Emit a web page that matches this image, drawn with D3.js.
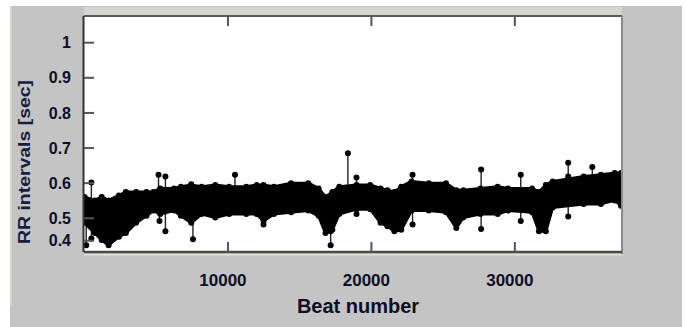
<!DOCTYPE html>
<html>
<head>
<meta charset="utf-8">
<script src="https://cdn.jsdelivr.net/npm/d3@7"></script>
<style>
  html, body { margin: 0; padding: 0; background: #ffffff; }
  svg { display: block; }
  text { font-family: "Liberation Sans", Arial, sans-serif; }
</style>
</head>
<body>
<script>
// ---- data ----
const bandBeats = [0,720,1200,1680,2400,2880,3600,4320,4800,5280,6240,6720,7440,8160,9120,10080,11280,12000,12480,13200,14400,15600,16320,16800,17280,17760,18960,19920,20640,21120,21600,22080,22800,24000,25200,25920,26400,27600,28800,29520,31200,31680,32160,32640,34800,36000,36960,37400];
const bandUpper = [0.561,0.551,0.561,0.551,0.565,0.575,0.575,0.575,0.575,0.585,0.585,0.590,0.595,0.590,0.595,0.590,0.590,0.595,0.595,0.590,0.600,0.600,0.585,0.561,0.575,0.590,0.595,0.595,0.585,0.580,0.575,0.590,0.605,0.600,0.600,0.580,0.580,0.585,0.590,0.585,0.585,0.575,0.595,0.605,0.619,0.624,0.629,0.629];
const bandLower = [0.480,0.434,0.403,0.380,0.418,0.434,0.480,0.507,0.522,0.512,0.522,0.507,0.480,0.512,0.502,0.512,0.512,0.512,0.488,0.512,0.517,0.522,0.507,0.434,0.449,0.512,0.526,0.526,0.480,0.465,0.442,0.449,0.522,0.522,0.517,0.457,0.502,0.512,0.512,0.522,0.517,0.442,0.442,0.531,0.541,0.541,0.551,0.536];
const outlierBeats  = [480,5160,5640,7440,10490,18360,18960,22870,27650,30410,33720,33720,35400, 120,480,5230,5640,7560,12480,17160,17160,18960,22870,27650,30410,33720];
const outlierValues = [0.602,0.624,0.619,0.597,0.624,0.685,0.616,0.624,0.639,0.624,0.658,0.619,0.646, 0.380,0.410,0.488,0.442,0.406,0.472,0.442,0.380,0.512,0.472,0.452,0.488,0.505];
const xTicks = [10000, 20000, 30000];
const yTicks = [0.4, 0.5, 0.6, 0.7, 0.8, 0.9, 1];
const xTitle = "Beat number";
const yTitle = "RR intervals [sec]";

// ---- layout ----
const W = 686, H = 327;
const plot = {left: 84, top: 16, right: 622, bottom: 252};

const svg = d3.select("body").append("svg").attr("width", W).attr("height", H);

// gray figure panel
svg.append("rect").attr("x", 10).attr("y", 6).attr("width", 672).attr("height", H - 6).attr("fill", "#c4c4c4");
svg.append("line").attr("x1", 11).attr("x2", 11).attr("y1", 6).attr("y2", 306).attr("stroke", "#dedbd0").attr("stroke-width", 1.2);
// light bevel above/below plot
svg.append("rect").attr("x", plot.left).attr("y", 7).attr("width", plot.right - plot.left).attr("height", 8).attr("fill", "#d6d5cf");
svg.append("line").attr("x1", plot.left).attr("x2", plot.right).attr("y1", 254.5).attr("y2", 254.5).attr("stroke", "#e2dfd2").attr("stroke-width", 2);

// white plot area
svg.append("rect").attr("x", plot.left).attr("y", plot.top).attr("width", plot.right - plot.left).attr("height", plot.bottom - plot.top).attr("fill", "#ffffff");

const x = d3.scaleLinear().domain([0, 37400]).range([84.5, 621]);
const y = d3.scaleLinear().domain([0.4, 0.5, 1.0]).range([240.7, 218.3, 42.7]);

const g = svg.append("g");
const clip = svg.append("clipPath").attr("id", "pc").append("rect")
  .attr("x", plot.left).attr("y", plot.top).attr("width", plot.right - plot.left).attr("height", plot.bottom - plot.top);
const data = g.append("g").attr("clip-path", "url(#pc)");

const band = bandBeats.map((b, i) => ({b, u: bandUpper[i], l: bandLower[i]}));

// stems of outliers (to band centre)
const mid = b => {
  const i = d3.bisector(d => d.b).right(band, b);
  const a = band[Math.max(0, i - 1)], c = band[Math.min(band.length - 1, i)];
  const t = c.b === a.b ? 0 : (b - a.b) / (c.b - a.b);
  return ((a.u + a.l) / 2) * (1 - t) + ((c.u + c.l) / 2) * t;
};
data.selectAll("line.stem").data(outlierBeats.map((b, i) => ({b, v: outlierValues[i]})))
  .join("line").attr("class", "stem")
  .attr("x1", d => x(d.b)).attr("x2", d => x(d.b))
  .attr("y1", d => y(d.v)).attr("y2", d => y(mid(d.b)))
  .attr("stroke", "#222").attr("stroke-width", 1.4);

// dense band
data.append("path").datum(band)
  .attr("d", d3.area().x(d => x(d.b)).y0(d => y(d.l)).y1(d => y(d.u)))
  .attr("fill", "#000").attr("stroke", "#000").attr("stroke-width", 3).attr("stroke-linejoin", "round");
// markers along band edges
data.selectAll("circle.eu").data(band).join("circle").attr("class", "eu")
  .attr("cx", d => x(d.b)).attr("cy", d => y(d.u)).attr("r", 3).attr("fill", "#000");
data.selectAll("circle.el").data(band).join("circle").attr("class", "el")
  .attr("cx", d => x(d.b)).attr("cy", d => y(d.l)).attr("r", 3).attr("fill", "#000");

// outlier markers
data.selectAll("circle.out").data(outlierBeats.map((b, i) => ({b, v: outlierValues[i]})))
  .join("circle").attr("class", "out")
  .attr("cx", d => x(d.b)).attr("cy", d => y(d.v)).attr("r", 3).attr("fill", "#000");

// frame
const frame = svg.append("g");
frame.append("line").attr("x1", plot.left).attr("x2", plot.right).attr("y1", plot.top).attr("y2", plot.top).attr("stroke", "#5a5a5a").attr("stroke-width", 2);
frame.append("line").attr("x1", plot.right).attr("x2", plot.right).attr("y1", plot.top).attr("y2", plot.bottom + 2).attr("stroke", "#8a8a8a").attr("stroke-width", 2);
frame.append("line").attr("x1", plot.left).attr("x2", plot.right).attr("y1", plot.bottom).attr("y2", plot.bottom).attr("stroke", "#4a4a4a").attr("stroke-width", 2.5);
frame.append("line").attr("x1", plot.left - 0.5).attr("x2", plot.left - 0.5).attr("y1", plot.top).attr("y2", plot.bottom).attr("stroke", "#333", ).attr("stroke-width", 2);

// ticks (inward)
frame.selectAll("line.yt").data(yTicks).join("line").attr("class", "yt")
  .attr("x1", plot.left).attr("x2", plot.left + 10).attr("y1", d => y(d)).attr("y2", d => y(d))
  .attr("stroke", "#555").attr("stroke-width", 2);
frame.selectAll("line.xb").data(xTicks).join("line").attr("class", "xb")
  .attr("x1", d => x(d)).attr("x2", d => x(d)).attr("y1", plot.bottom).attr("y2", plot.bottom - 10)
  .attr("stroke", "#555").attr("stroke-width", 2);
frame.selectAll("line.xt").data(xTicks).join("line").attr("class", "xt")
  .attr("x1", d => x(d)).attr("x2", d => x(d)).attr("y1", plot.top).attr("y2", plot.top + 10)
  .attr("stroke", "#555").attr("stroke-width", 2);

// tick labels
const txt = "#0e0e26";
frame.selectAll("text.yl").data(yTicks).join("text").attr("class", "yl")
  .attr("x", 71).attr("y", d => y(d)).attr("dy", "0.35em")
  .attr("text-anchor", "end").attr("font-size", 16).attr("font-weight", "bold").attr("fill", txt)
  .text(d => d3.format("~g")(d));
frame.selectAll("text.xl").data(xTicks).join("text").attr("class", "xl")
  .attr("x", d => x(d) - 5).attr("y", 286)
  .attr("text-anchor", "middle").attr("font-size", 17).attr("font-weight", "bold").attr("fill", txt)
  .text(d => d);

// axis titles
svg.append("text").attr("x", 358).attr("y", 313).attr("text-anchor", "middle")
  .attr("font-size", 20).attr("font-weight", "bold").attr("fill", txt).text(xTitle);
svg.append("text").attr("transform", "translate(30,162) rotate(-90)").attr("text-anchor", "middle")
  .attr("font-size", 17).attr("font-weight", "bold").attr("fill", "#142040")
  .attr("textLength", 164).attr("lengthAdjust", "spacingAndGlyphs").text(yTitle);
</script>
</body>
</html>
